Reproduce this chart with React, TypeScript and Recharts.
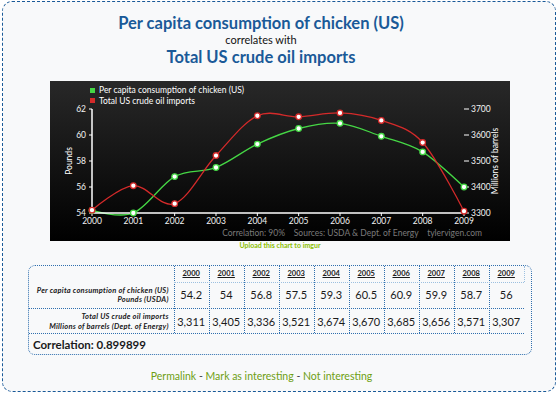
import React from "react";
import { LineChart, Line, XAxis, YAxis, Legend } from "recharts";

const years = ["2000", "2001", "2002", "2003", "2004", "2005", "2006", "2007", "2008", "2009"];
const chicken = [54.2, 54, 56.8, 57.5, 59.3, 60.5, 60.9, 59.9, 58.7, 56];
const oilImports = [3311, 3405, 3336, 3521, 3674, 3670, 3685, 3656, 3571, 3307];
const poundsTicks = [54, 56, 58, 60, 62];
const barrelTicks = [3300, 3400, 3500, 3600, 3700];

const chickenName = "Per capita consumption of chicken (US)";
const oilName = "Total US crude oil imports";

const data = years.map((year, i) => ({ year, chicken: chicken[i], oil: oilImports[i] }));

const FONT = "Lato, 'Open Sans', sans-serif";
const BLUE = "#1a5a98";
const GREEN = "#45d745";
const RED = "#d42a2a";

// catmull-rom style spline (d3 cardinal, tension 0)
class Cardinal {
	ctx: any;
	k = 1 / 6;
	line = NaN;
	pt = 0;
	x0 = NaN; x1 = NaN; x2 = NaN;
	y0 = NaN; y1 = NaN; y2 = NaN;
	constructor(ctx: any) {
		this.ctx = ctx;
	}
	areaStart() { this.line = 0; }
	areaEnd() { this.line = NaN; }
	lineStart() {
		this.x0 = this.x1 = this.x2 = this.y0 = this.y1 = this.y2 = NaN;
		this.pt = 0;
	}
	lineEnd() {
		if (this.pt === 2) this.ctx.lineTo(this.x2, this.y2);
		else if (this.pt === 3) this.seg(this.x1, this.y1);
		if (this.line || (this.line !== 0 && this.pt === 1)) this.ctx.closePath();
		this.line = 1 - this.line;
	}
	seg(x: number, y: number) {
		this.ctx.bezierCurveTo(
			this.x1 + this.k * (this.x2 - this.x0),
			this.y1 + this.k * (this.y2 - this.y0),
			this.x2 + this.k * (this.x1 - x),
			this.y2 + this.k * (this.y1 - y),
			this.x2,
			this.y2
		);
	}
	point(x: number, y: number) {
		x = +x; y = +y;
		if (this.pt === 0) {
			this.pt = 1;
			this.line ? this.ctx.lineTo(x, y) : this.ctx.moveTo(x, y);
		} else if (this.pt === 1) {
			this.pt = 2;
			this.x1 = x; this.y1 = y;
		} else {
			this.pt = 3;
			this.seg(x, y);
		}
		this.x0 = this.x1; this.x1 = this.x2; this.x2 = x;
		this.y0 = this.y1; this.y1 = this.y2; this.y2 = y;
	}
}
const spline: any = (ctx: any) => new Cardinal(ctx);

const tickStyle = { fill: "#f2f2f2", fontSize: 8.5, fontFamily: FONT };

function ChartLegend() {
	const rows = [
		{ name: chickenName, color: GREEN },
		{ name: oilName, color: RED },
	];
	return (
		<div style={{ fontFamily: FONT, fontSize: 8.5, color: "#fff" }}>
			{rows.map((r) => (
				<div key={r.name} style={{ display: "flex", alignItems: "center", height: 10.5 }}>
					<span style={{ width: 5, height: 5, background: r.color, marginRight: 4 }} />
					{r.name}
				</div>
			))}
		</div>
	);
}

function Dot(color: string) {
	return { r: 2.8, fill: "#fff", stroke: color, strokeWidth: 1.3 };
}

function Chart() {
	return (
		<LineChart width={460} height={160} data={data} margin={{ top: 28, right: 0, bottom: 14, left: 0 }}>
			<XAxis
				dataKey="year"
				interval={0}
				height={14}
				tick={tickStyle}
				tickSize={3}
				tickMargin={2}
				axisLine={{ stroke: "#fff", strokeWidth: 1.5 }}
				tickLine={{ stroke: "#fff" }}
			/>
			<YAxis
				yAxisId="left"
				domain={[54, 62]}
				ticks={poundsTicks}
				width={42}
				tick={tickStyle}
				tickSize={3}
				tickMargin={3}
				axisLine={{ stroke: "#fff", strokeWidth: 1.5 }}
				tickLine={{ stroke: "#fff" }}
				label={{
					content: ({ viewBox }: any) => (
						<text
							x={viewBox.x + 19}
							y={viewBox.y + viewBox.height / 2}
							transform={`rotate(-90 ${viewBox.x + 19} ${viewBox.y + viewBox.height / 2})`}
							textAnchor="middle"
							dominantBaseline="central"
							fill="#fff"
							fontSize={8.5}
							fontFamily={FONT}
						>
							Pounds
						</text>
					),
				}}
			/>
			<YAxis
				yAxisId="right"
				orientation="right"
				domain={[3300, 3700]}
				ticks={barrelTicks}
				width={46}
				tick={tickStyle}
				tickSize={5}
				tickMargin={2}
				axisLine={false}
				tickLine={{ stroke: "#fff" }}
				label={{
					content: ({ viewBox }: any) => (
						<text
							x={viewBox.x + 31}
							y={viewBox.y + viewBox.height / 2}
							transform={`rotate(-90 ${viewBox.x + 31} ${viewBox.y + viewBox.height / 2})`}
							textAnchor="middle"
							dominantBaseline="central"
							fill="#fff"
							fontSize={8.5}
							fontFamily={FONT}
						>
							Millions of barrels
						</text>
					),
				}}
			/>
			<Legend
				layout="horizontal"
				verticalAlign="middle"
				align="center"
				content={<ChartLegend />}
				wrapperStyle={{ top: 4, left: 40, width: 240, height: 21 }}
			/>
			<Line
				yAxisId="left"
				dataKey="chicken"
				name={chickenName}
				type={spline}
				stroke={GREEN}
				strokeWidth={1.3}
				dot={Dot(GREEN)}
				activeDot={false}
				isAnimationActive={false}
			/>
			<Line
				yAxisId="right"
				dataKey="oil"
				name={oilName}
				type={spline}
				stroke={RED}
				strokeWidth={1.3}
				dot={Dot(RED)}
				activeDot={false}
				isAnimationActive={false}
			/>
		</LineChart>
	);
}

const abs = (left: number, top: number, extra: React.CSSProperties = {}): React.CSSProperties => ({
	position: "absolute",
	left,
	top,
	...extra,
});

function DataTable() {
	const labelW = 144.7;
	const colW = 35;
	const line = "1px dotted #2f6fae";
	const cellText = (text: string, i: number, cy: number, style: React.CSSProperties) => (
		<div
			key={text + i + cy}
			style={abs(labelW + colW * i, cy - 8, {
				width: colW,
				height: 16,
				lineHeight: "16px",
				textAlign: "center",
				...style,
			})}
		>
			{text}
		</div>
	);
	return (
		<div
			style={abs(28, 265, {
				width: 502,
				height: 88,
				border: line,
				borderRadius: 7,
				fontFamily: FONT,
				color: "#1a1a1a",
			})}
		>
			{years.map((_, i) => (
				<div key={"v" + i} style={abs(labelW + colW * i, 0, { height: 67, borderLeft: line })} />
			))}
			<div style={abs(labelW + colW * 10, 0, { height: 16, borderLeft: "1px dotted #9cc0e0" })} />
			<div style={abs(labelW, 15.7, { width: colW * 10, borderTop: "1px dotted #9cc0e0" })} />
			<div style={abs(0, 41.7, { width: labelW + colW * 10, borderTop: line })} />
			<div style={abs(0, 67.3, { width: labelW + colW * 10, borderTop: line })} />
			{years.map((y, i) =>
				cellText(y, i, 7.5, { fontSize: 7.5, fontWeight: 700, textDecoration: "underline" })
			)}
			{chicken.map((v, i) => cellText(String(v), i, 29.3, { fontSize: 11 }))}
			{oilImports.map((v, i) => cellText(v.toLocaleString("en-US"), i, 55.7, { fontSize: 11 }))}
			<div
				style={abs(0, 19.5, {
					width: 139.7,
					textAlign: "right",
					fontSize: 7.5,
					fontWeight: 700,
					fontStyle: "italic",
					lineHeight: "9px",
					letterSpacing: 0.25,
				})}
			>
				{chickenName}
				<br />
				Pounds (USDA)
			</div>
			<div
				style={abs(0, 46, {
					width: 139.7,
					textAlign: "right",
					fontSize: 7.5,
					fontWeight: 700,
					fontStyle: "italic",
					lineHeight: "10px",
					letterSpacing: 0.25,
				})}
			>
				{oilName}
				<br />
				Millions of barrels (Dept. of Energy)
			</div>
			<div style={abs(4, 72, { fontSize: 11.5, fontWeight: 700, lineHeight: "14px" })}>
				Correlation: 0.899899
			</div>
		</div>
	);
}

export default function App() {
	const link = { color: "#6e9f12" };
	return (
		<div style={abs(0, 0, { width: 560, height: 395, background: "#fff", fontFamily: FONT })}>
			<div
				style={abs(2, 1, {
					width: 552,
					height: 389,
					border: `1.5px dashed ${BLUE}`,
					borderRadius: 10,
					background: "#f8f9fa",
				})}
			/>
			<div
				style={abs(0, 12, {
					width: 522,
					textAlign: "center",
					fontSize: 16.5,
					fontWeight: 700,
					color: BLUE,
					lineHeight: "22px",
				})}
			>
				{chickenName}
			</div>
			<div style={abs(0, 33, { width: 522, textAlign: "center", fontSize: 11, color: "#111", lineHeight: "14px" })}>
				correlates with
			</div>
			<div
				style={abs(0, 46, {
					width: 522,
					textAlign: "center",
					fontSize: 16.5,
					fontWeight: 700,
					color: BLUE,
					lineHeight: "22px",
				})}
			>
				{oilName}
			</div>
			<div
				style={abs(50, 81, {
					width: 460,
					height: 160,
					background: "linear-gradient(#282828, #000)",
				})}
			>
				<Chart />
				<div
					style={abs(0, 146, {
						width: 432,
						textAlign: "right",
						fontSize: 8.5,
						color: "#7a7a7a",
						whiteSpace: "pre",
						lineHeight: "12px",
					})}
				>
					{"Correlation: 90%    Sources: USDA & Dept. of Energy    tylervigen.com"}
				</div>
			</div>
			<div
				style={abs(0, 240, {
					width: 560,
					textAlign: "center",
					fontSize: 7,
					fontWeight: 700,
					color: "#8cbf00",
					lineHeight: "10px",
				})}
			>
				Upload this chart to imgur
			</div>
			<DataTable />
			<div style={abs(0, 369, { width: 523, textAlign: "center", fontSize: 10.5, color: "#444", lineHeight: "14px" })}>
				<span style={link}>Permalink</span> - <span style={link}>Mark as interesting</span> -{" "}
				<span style={link}>Not interesting</span>
			</div>
		</div>
	);
}
